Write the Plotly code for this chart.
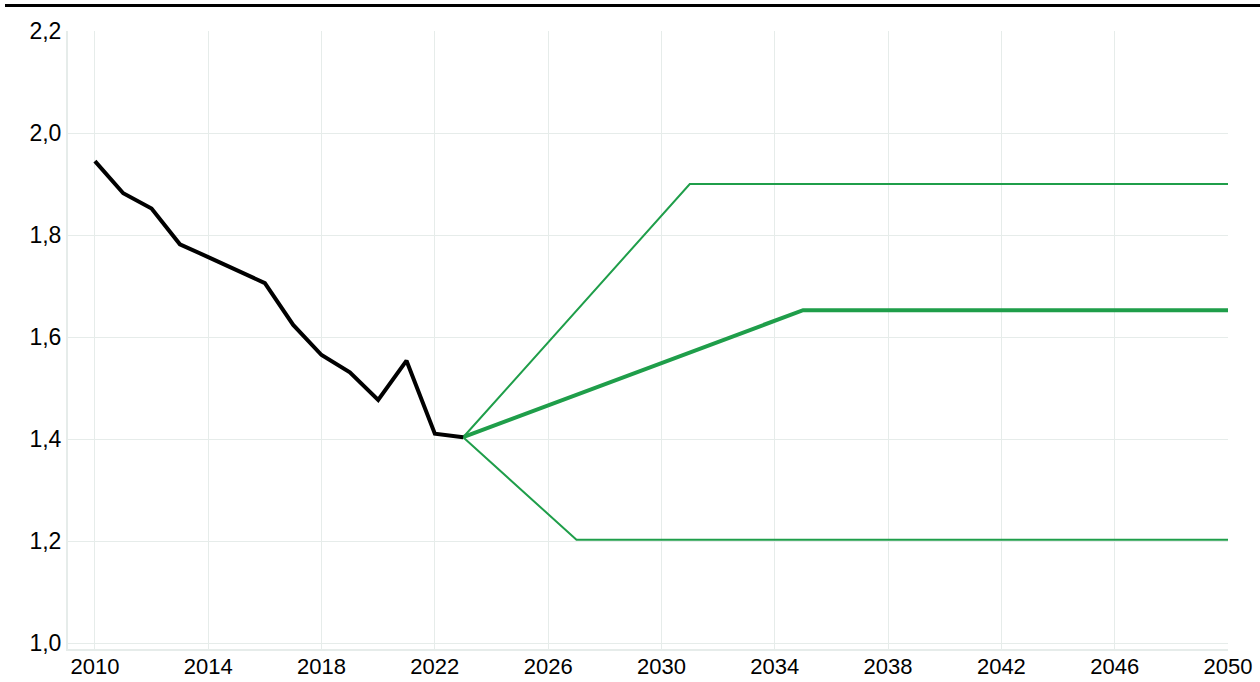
import plotly.graph_objects as go

hist_years = list(range(2010, 2024))
hist_values = [1.945, 1.882, 1.852, 1.782, 1.757, 1.731, 1.706, 1.624, 1.565, 1.531, 1.477, 1.554, 1.411, 1.404]

high_years = [2023, 2031, 2050]
high_values = [1.404, 1.90, 1.90]
main_years = [2023, 2035, 2050]
main_values = [1.404, 1.653, 1.653]
low_years = [2023, 2027, 2050]
low_values = [1.404, 1.203, 1.203]

x_ticks = list(range(2010, 2051, 4))
y_ticks = [1.0, 1.2, 1.4, 1.6, 1.8, 2.0, 2.2]

GREEN = "#1f9e4a"
GRID = "#e6ecea"

fig = go.Figure()
fig.add_trace(go.Scatter(x=high_years, y=high_values, mode="lines",
                         line=dict(color=GREEN, width=2), showlegend=False))
fig.add_trace(go.Scatter(x=low_years, y=low_values, mode="lines",
                         line=dict(color=GREEN, width=2), showlegend=False))
fig.add_trace(go.Scatter(x=main_years, y=main_values, mode="lines",
                         line=dict(color=GREEN, width=4), showlegend=False))
fig.add_trace(go.Scatter(x=hist_years, y=hist_values, mode="lines",
                         line=dict(color="#000000", width=4), showlegend=False))

W, H = 1260, 682
L, R, T, B = 68, 32, 31, 33
pw = W - L - R
ph = H - T - B

fig.add_shape(type="line", xref="paper", yref="paper",
              x0=(5 - L) / pw, x1=(W - L) / pw,
              y0=(H - B - 5.5) / ph, y1=(H - B - 5.5) / ph,
              line=dict(color="#000000", width=3))

fig.update_layout(
    template="none",
    width=W, height=H,
    margin=dict(l=L, r=R, t=T, b=B, autoexpand=False),
    plot_bgcolor="white", paper_bgcolor="white",
    separators=", ",
    showlegend=False,
    font=dict(family="Liberation Sans, Arial, sans-serif", size=23, color="#000000"),
    xaxis=dict(range=[2009.05, 2050], tickvals=x_ticks, showgrid=True,
               gridcolor=GRID, gridwidth=1, showline=True, linecolor=GRID,
               linewidth=2, zeroline=False, ticks="", automargin=False,
               ticklabelstandoff=-3, tickfont=dict(size=22)),
    yaxis=dict(range=[0.989, 2.2], tickvals=y_ticks, tickformat=".1f",
               showgrid=True, gridcolor=GRID, gridwidth=1, showline=True,
               linecolor=GRID, linewidth=2, zeroline=False, ticks="",
               automargin=False, tickfont=dict(size=23)),
)

fig.write_html("out.html",
               config={"displayModeBar": False},
               post_script="document.body.style.margin='0';document.body.style.padding='0';")
